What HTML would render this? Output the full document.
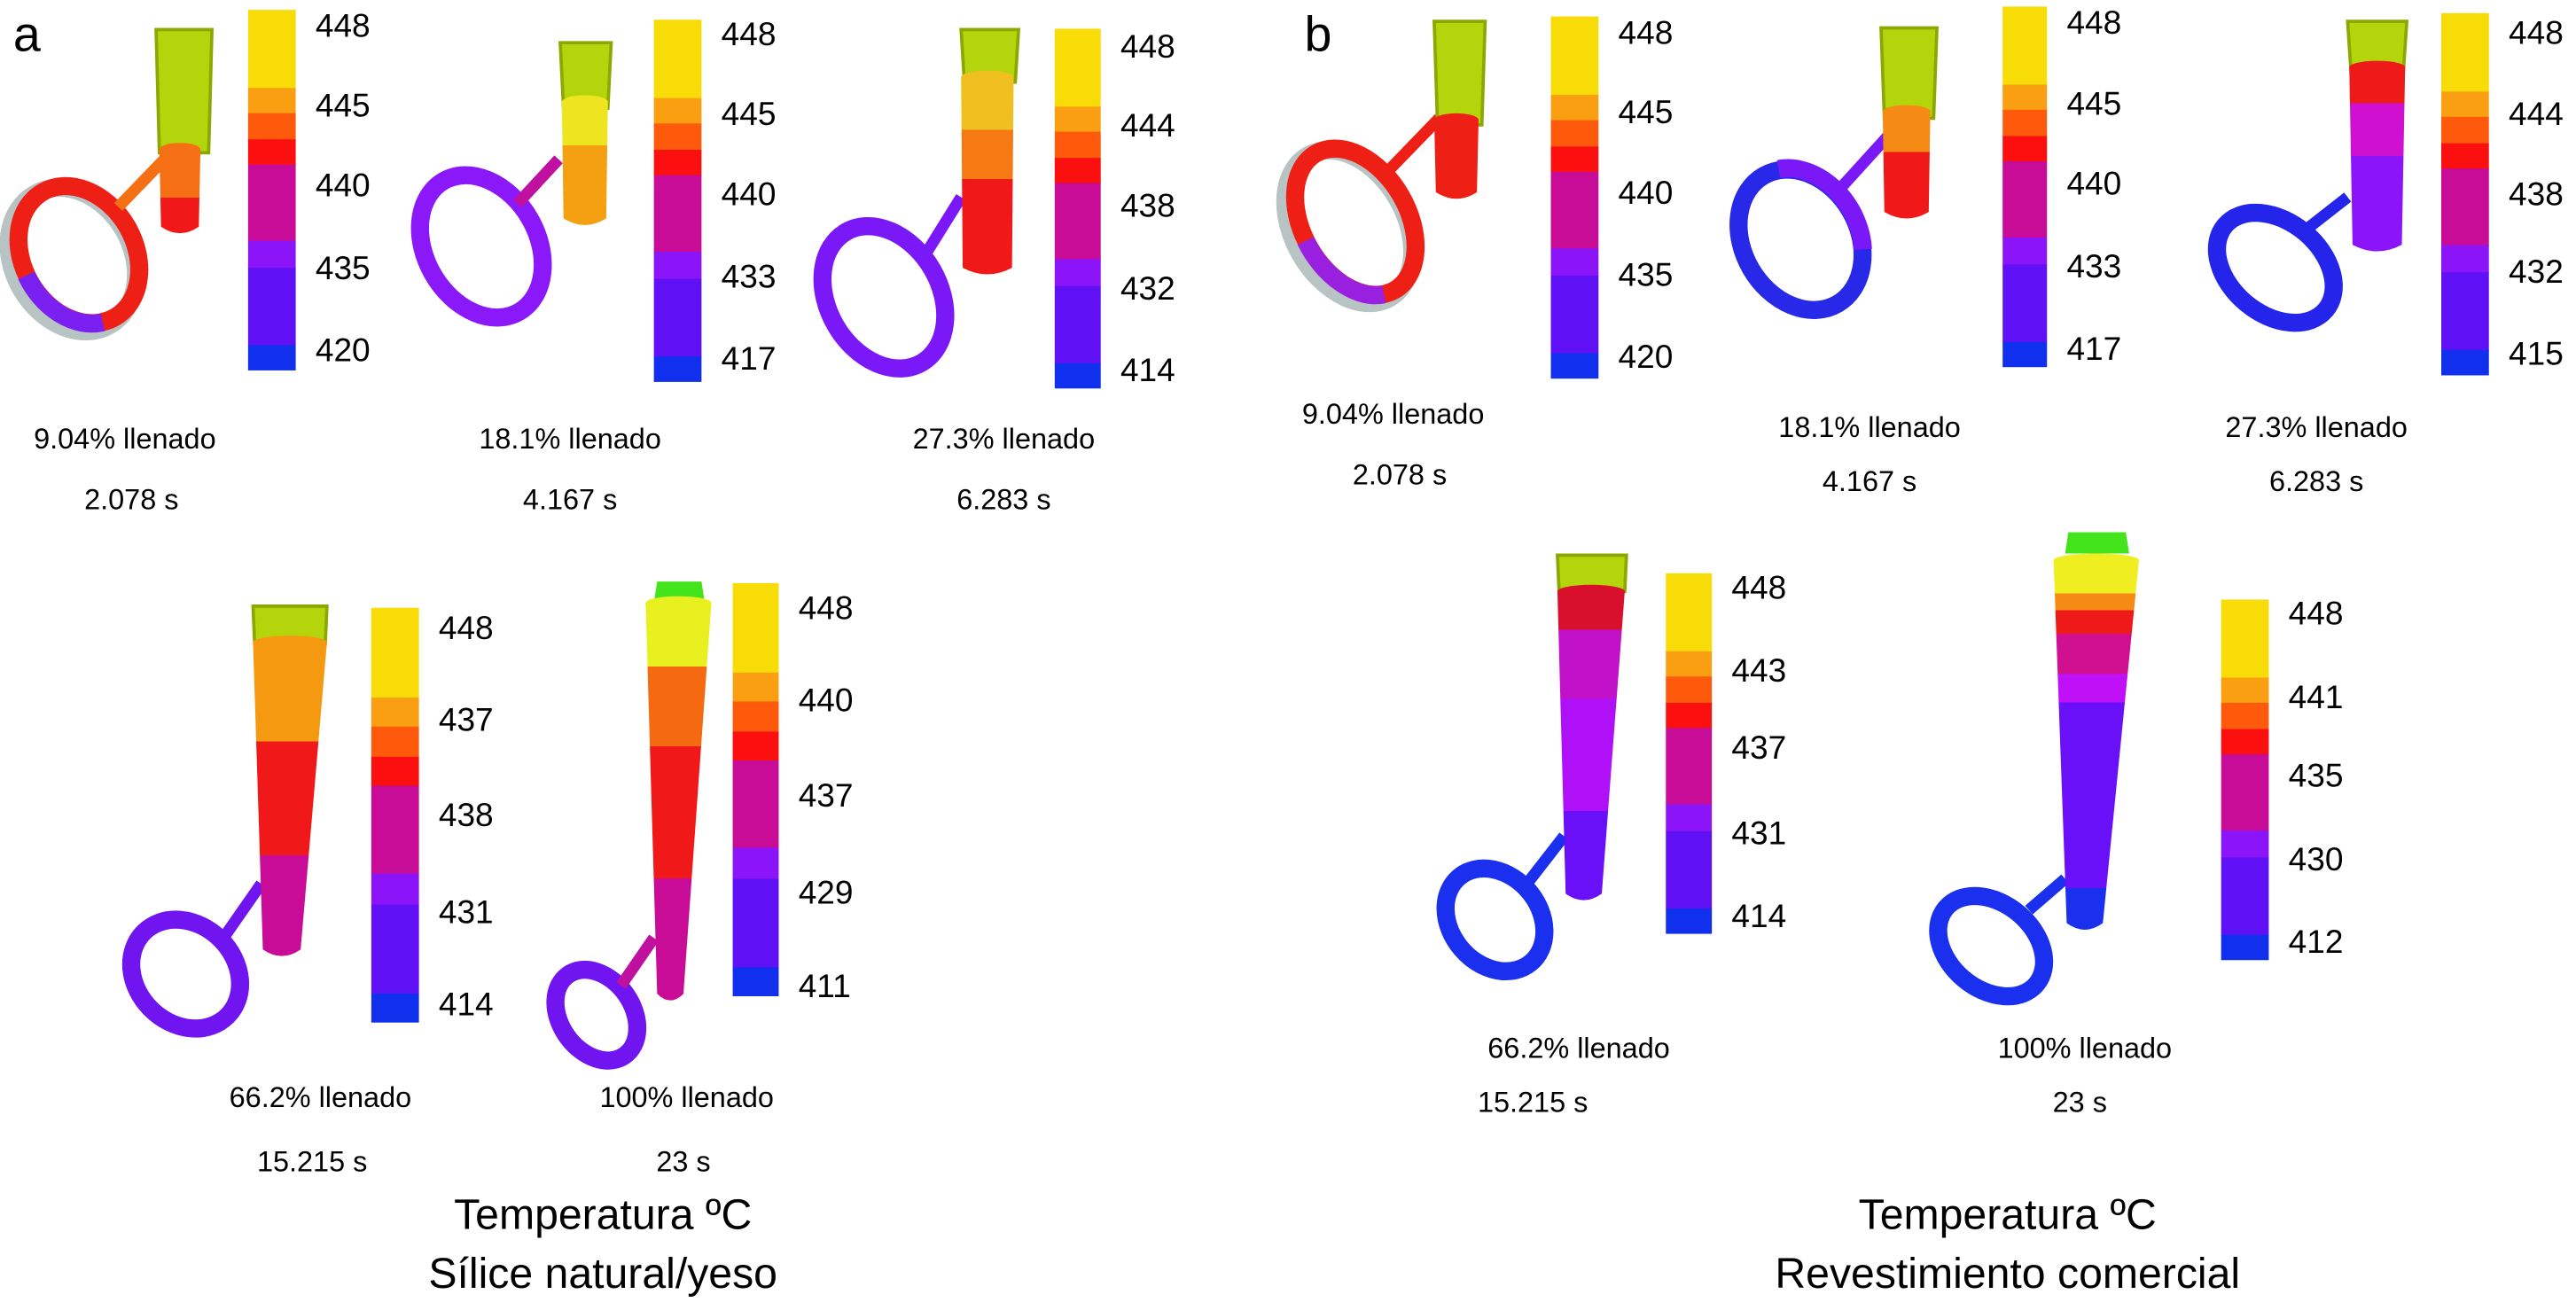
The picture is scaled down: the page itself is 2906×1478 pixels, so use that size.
<!DOCTYPE html>
<html><head><meta charset="utf-8"><style>
html,body{margin:0;padding:0;background:#fff;width:2906px;height:1478px;overflow:hidden}
svg{display:block}
text{font-family:"Liberation Sans",Arial,sans-serif;fill:#000}
</style></head><body>
<svg id="fig" width="2906" height="1478" viewBox="0 0 1568 797.5" xmlns="http://www.w3.org/2000/svg">
<text x="8" y="31" font-size="30">a</text>
<text x="794" y="31" font-size="30">b</text>
<text x="367" y="748" font-size="26" text-anchor="middle">Temperatura ºC</text>
<text x="367" y="784" font-size="26" text-anchor="middle">Sílice natural/yeso</text>
<text x="1222" y="748" font-size="26" text-anchor="middle">Temperatura ºC</text>
<text x="1222" y="784" font-size="26" text-anchor="middle">Revestimiento comercial</text>
</svg>
<script>
// Colour scale bands (top to bottom) and fractions of bar height
const bandColors = ["#f8dc08","#fb9f12","#ff5a0c","#fb0f0f","#c80c98","#8c14f8","#6010f4","#1030ee"];
const bandFrac = [0.217,0.07,0.073,0.07,0.212,0.075,0.215,0.068];
// Tick labels of each colour bar
const ticksA1 = ["448","445","440","435","420"];
const ticksA2 = ["448","445","440","433","417"];
const ticksA3 = ["448","444","438","432","414"];
const ticksA4 = ["448","437","438","431","414"];
const ticksA5 = ["448","440","437","429","411"];
const ticksB1 = ["448","445","440","435","420"];
const ticksB2 = ["448","445","440","433","417"];
const ticksB3 = ["448","444","438","432","415"];
const ticksB4 = ["448","443","437","431","414"];
const ticksB5 = ["448","441","435","430","412"];
// Captions
const fillPct = ["9.04% llenado","18.1% llenado","27.3% llenado","66.2% llenado","100% llenado"];
const fillTime = ["2.078 s","4.167 s","6.283 s","15.215 s","23 s"];

const svg = document.getElementById('fig');
const NS = "http://www.w3.org/2000/svg";
function mk(tag, attrs, parent){
  const e = document.createElementNS(NS, tag);
  for (const k in attrs) e.setAttribute(k, attrs[k]);
  (parent||svg).appendChild(e);
  return e;
}
function colorbar(id, x, w, y0, y1, ticks, tickYs){
  const g = mk('g', {});
  
  
  let y = y0; const h = y1 - y0;
  bandColors.forEach((c, i) => {
    const bh = bandFrac[i] * h;
    const r = mk('rect', {x: x, y: y, width: w, height: bh + 0.5, fill: c}, g);
    
    
    y += bh;
  });
  ticks.forEach((t, i) => {
    const tx = mk('text', {x: x + w + 12, y: tickYs[i] + 7, 'font-size': 20}, g);
    tx.textContent = t;
    
    
  });
}
function caption(id, cx, cx2, y1, y2, i){
  const a = mk('text', {x: cx, y: y1, 'font-size': 17.5, 'text-anchor': 'middle'});
  a.textContent = fillPct[i];
  
  
  const b = mk('text', {x: cx2, y: y2, 'font-size': 17.5, 'text-anchor': 'middle'});
  b.textContent = fillTime[i];
  
  
}
function casting(id, p){
  const g = mk('g', {});
  
  
  const [cx, cy] = p.rc;
  if (p.grey) mk('ellipse', {cx: cx-4, cy: cy+3, rx: p.rr[0]+2, ry: p.rr[1]+2, fill: 'none', stroke: '#b8c4c4', 'stroke-width': 11, transform: `rotate(${p.rot} ${cx-4} ${cy+3})`}, g);
  mk('ellipse', {cx: cx, cy: cy, rx: p.rr[0], ry: p.rr[1], fill: 'none', stroke: p.ring, 'stroke-width': 11, transform: `rotate(${p.rot} ${cx} ${cy})`}, g);
  if (p.ring2) mk('path', {d: p.ring2, fill: 'none', stroke: p.ring2c, 'stroke-width': 11, transform: `rotate(${p.rot} ${cx} ${cy})`}, g);
  mk('line', {x1: p.arm[0], y1: p.arm[1], x2: p.arm[2], y2: p.arm[3], stroke: p.armc, 'stroke-width': 7}, g);
  if (p.sprue) mk('polygon', {points: p.sprue, fill: '#b4d40c', stroke: '#8ca800', 'stroke-width': 2}, g);
  if (p.cap) mk('polygon', {points: p.cap, fill: '#44e41c'}, g);
  const [xl0, xr0, yt, xl1, xr1, yb] = p.riser;
  const gid = id + 'grad';
  const lg = mk('linearGradient', {id: gid, x1: 0, y1: 0, x2: 0, y2: 1}, g);
  let prev = 0;
  p.stops.forEach(s => {
    const end = s[1] === null ? 1 : (s[1] - yt) / (yb - yt);
    mk('stop', {offset: prev, 'stop-color': s[0]}, lg);
    mk('stop', {offset: end, 'stop-color': s[0]}, lg);
    prev = end;
  });
  mk('path', {d: `M${xl0},${yt} L${xr0},${yt} L${xr1},${yb} Q${(xl1+xr1)/2},${yb+8} ${xl1},${yb} Z`, fill: `url(#${gid})`}, g);
  mk('ellipse', {cx: (xl0+xr0)/2, cy: yt, rx: (xr0-xl0)/2, ry: 4, fill: p.stops[0][0]}, g);
}
// ---- panel a ----
casting('a1', {rc:[48,155], rr:[34,44], rot:-30, ring:'#ee2016', grey:true, ring2:'M14,150 A34,44 0 0 0 40,198', ring2c:'#7a20f0',
  arm:[72,126,100,97], armc:'#f57014', sprue:'95,18 129,18 127,93 97,93', riser:[97,122,91,98,121,138],
  stops:[['#f57014',118],['#f01818',null]]});
casting('a2', {rc:[293,150], rr:[34,46], rot:-30, ring:'#8a18f8', arm:[315,124,340,97], armc:'#c010a0',
  sprue:'341,26 372,26 370,66 343,66', riser:[342,370,62,343,369,133], stops:[['#eee420',87],['#f5a010',null]]});
casting('a3', {rc:[538,181], rr:[34,46], rot:-30, ring:'#7a18f8', arm:[562,157,585,120], armc:'#7a18f8',
  sprue:'585,18 620,18 618,50 587,50', riser:[585,617,47,586,616,163], stops:[['#f0c020',78],['#f57a14',107],['#f01818',null]]});
casting('a4', {rc:[113,593], rr:[30,36], rot:-45, ring:'#7014f0', arm:[136,571,159,538], armc:'#7014f0',
  sprue:'154,369 199,369 198,392 155,392', riser:[154,199,391,160,183,578], stops:[['#f59a10',450],['#f01818',518],['#c80c98',null]]});
casting('a5', {rc:[363,618], rr:[22,30], rot:-35, ring:'#7014f0', arm:[378,600,398,571], armc:'#c010a0',
  cap:'400,354 427,354 429,367 398,367', riser:[393,433,367,400,416,605], stops:[['#e8f020',405],['#f56a10',453],['#f01818',532],['#c80c98',null]]});
// ---- panel b ----
casting('b1', {rc:[825,135], rr:[32,48], rot:-30, ring:'#ee2016', grey:true, ring2:'M793,130 A32,48 0 0 0 818,182', ring2c:'#9a20e0',
  arm:[846,103,876,72], armc:'#ee2016', sprue:'873,13 904,13 902,76 875,76', riser:[873,900,73,874,899,117],
  stops:[['#ee2016',null]]});
casting('b2', {rc:[1096,146], rr:[35,45], rot:-30, ring:'#2828e8', ring2:'M1106,102 A35,45 0 0 1 1126,170', ring2c:'#7a18f8',
  arm:[1119,116,1149,83], armc:'#7a18f8', sprue:'1145,17 1179,17 1177,72 1147,72', riser:[1146,1175,68,1147,1174,129], stops:[['#f58a14',91],['#f01818',null]]});
casting('b3', {rc:[1385,163], rr:[28,40], rot:-50, ring:'#2424ea', arm:[1406,138,1429,120], armc:'#2424ea',
  sprue:'1429,13 1465,13 1463,43 1431,43', riser:[1430,1464,41,1432,1462,149], stops:[['#ee1a1a',62],['#d010d0',93],['#8c14f8',null]]});
casting('b4', {rc:[910,560], rr:[27,34], rot:-40, ring:'#1a30ee', arm:[931,536,952,509], armc:'#1a30ee',
  sprue:'948,338 990,338 989,360 949,360', riser:[948,989,360,953,975,544], stops:[['#d8102c',383],['#c010c8',424],['#b010f8',491],['#6a10f8',null]]});
casting('b5', {rc:[1212,576], rr:[26,36], rot:-50, ring:'#1a30ee', arm:[1235,554,1257,535], armc:'#1a30ee',
  cap:'1259,324 1294,324 1296,337 1257,337', riser:[1250,1302,341,1258,1280,562],
  stops:[['#eeee20',361],['#f58a14',371],['#ee1a1a',385],['#d01090',409],['#c010f8',426],['#6a10f8',537],['#1a30ee',null]]});

colorbar('a1', 151, 29, 6, 225, ticksA1, [15.5,64,112.5,163,213]);
colorbar('a2', 398, 29, 12, 232, ticksA2, [20.6,69,118,168,218]);
colorbar('a3', 642, 28, 17.5, 236, ticksA3, [28,76,125,175.5,225]);
colorbar('a4', 226, 29, 370, 622, ticksA4, [382,438,496,555,611]);
colorbar('a5', 446, 28, 355, 606, ticksA5, [370,426,484,543,600]);
colorbar('b1', 944, 29, 10, 230, ticksB1, [19.6,68,117,167,217]);
colorbar('b2', 1219, 27, 4, 223, ticksB2, [13.4,63,111.5,162,212]);
colorbar('b3', 1486, 29, 8, 228, ticksB3, [19.6,69,118,165,215]);
colorbar('b4', 1014, 28, 349, 568, ticksB4, [357.6,408,455,507,557.5]);
colorbar('b5', 1352, 29, 365, 584, ticksB5, [373,424,472,523,573]);

caption('a1', 76, 80, 273, 310, 0);
caption('a2', 347, 347, 273, 310, 1);
caption('a3', 611, 611, 273, 310, 2);
caption('a4', 195, 190, 674, 713, 3);
caption('a5', 418, 416, 674, 713, 4);
caption('b1', 848, 852, 258, 295, 0);
caption('b2', 1138, 1138, 266, 299, 1);
caption('b3', 1410, 1410, 266, 299, 2);
caption('b4', 961, 933, 644, 677, 3);
caption('b5', 1269, 1266, 644, 677, 4);
</script>
</body></html>
